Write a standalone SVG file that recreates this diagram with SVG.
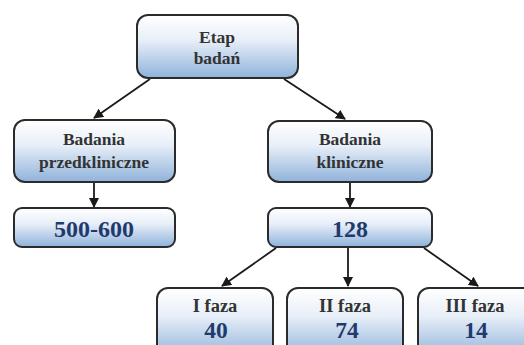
<svg xmlns="http://www.w3.org/2000/svg" width="524" height="345" viewBox="0 0 524 345">
<defs>
<linearGradient id="g" x1="0" y1="0" x2="0" y2="1">
<stop offset="0" stop-color="#ffffff"/>
<stop offset="0.4" stop-color="#e8eff8"/>
<stop offset="1" stop-color="#8fb2db"/>
</linearGradient>
<marker id="ah" markerWidth="10" markerHeight="10" refX="9" refY="5" orient="auto" markerUnits="userSpaceOnUse">
<path d="M0,0 L10,5 L0,10 z" fill="#1a1a1a"/>
</marker>
<style>
.box{fill:url(#g);stroke:#2b2b2b;stroke-width:2}
.t{font-weight:bold;fill:#333333;text-anchor:middle}
.n{font-weight:bold;fill:#1f3a6e;text-anchor:middle}
.c{stroke:#1a1a1a;stroke-width:1.8;fill:none;marker-end:url(#ah)}
</style>
</defs>
<g id="connectors">
<line class="c" x1="150" y1="79" x2="94" y2="118"/>
<line class="c" x1="284" y1="79" x2="345" y2="119"/>
<line class="c" x1="94" y1="183" x2="94" y2="207"/>
<line class="c" x1="350" y1="183" x2="350" y2="207"/>
<line class="c" x1="276" y1="248" x2="222" y2="286"/>
<line class="c" x1="348" y1="248" x2="348" y2="286"/>
<line class="c" x1="424" y1="248" x2="478" y2="286"/>
</g>
<g font-family="Liberation Serif, Times New Roman, serif">
<g id="etap">
<rect class="box" x="137" y="15" width="161" height="63" rx="11"/>
<text class="t" font-size="17.5" x="217" y="43">Etap</text>
<text class="t" font-size="17.5" x="217" y="64">badań</text>
</g>
<g id="przedkliniczne">
<rect class="box" x="14" y="120" width="161" height="62" rx="11"/>
<text class="t" font-size="17.5" x="94" y="145">Badania</text>
<text class="t" font-size="17.5" x="94" y="168">przedkliniczne</text>
</g>
<g id="n500">
<rect class="box" x="14" y="208" width="161" height="39" rx="8"/>
<text class="n" font-size="24" x="94" y="237">500-600</text>
</g>
<g id="kliniczne">
<rect class="box" x="268" y="121" width="164" height="61" rx="11"/>
<text class="t" font-size="17.5" x="350" y="145">Badania</text>
<text class="t" font-size="17.5" x="350" y="168">kliniczne</text>
</g>
<g id="n128">
<rect class="box" x="268" y="208" width="164" height="39" rx="8"/>
<text class="n" font-size="24" x="350" y="237">128</text>
</g>
<g id="faza1">
<rect class="box" x="157" y="288" width="116" height="70" rx="11"/>
<text class="t" font-size="18.5" x="215" y="312">I faza</text>
<text class="n" font-size="23.5" x="216" y="338">40</text>
</g>
<g id="faza2">
<rect class="box" x="287" y="288" width="116" height="70" rx="11"/>
<text class="t" font-size="18.5" x="345" y="312">II faza</text>
<text class="n" font-size="23.5" x="347" y="338">74</text>
</g>
<g id="faza3">
<rect class="box" x="418" y="288" width="116" height="70" rx="11"/>
<text class="t" font-size="18.5" x="475" y="312">III faza</text>
<text class="n" font-size="23.5" x="476" y="338">14</text>
</g>
</g>
</svg>
